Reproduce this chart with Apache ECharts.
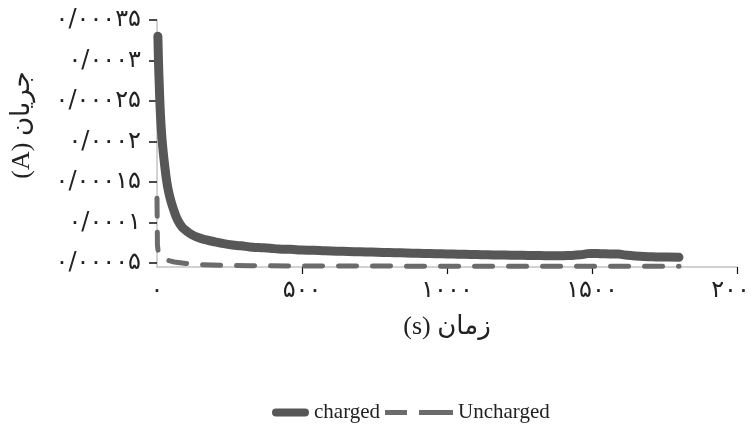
<!DOCTYPE html>
<html>
<head>
<meta charset="utf-8">
<script src="https://cdn.jsdelivr.net/npm/echarts@6/dist/echarts.min.js"></script>
<style>
html,body{margin:0;padding:0;background:#fff;}
#chart{width:754px;height:445px;}
</style>
</head>
<body>
<div id="chart"></div>
<script>
// ---- data ----
var chargedTime = [3, 5, 8, 11, 15, 20, 26, 33, 40, 50, 60, 70, 85, 100, 120, 145, 170, 200, 230, 260, 290, 320, 350, 390, 420, 460, 500, 540, 580, 620, 660, 700, 740, 780, 820, 860, 900, 940, 980, 1020, 1060, 1100, 1140, 1180, 1220, 1260, 1300, 1340, 1380, 1420, 1460, 1480, 1500, 1530, 1560, 1590, 1610, 1640, 1680, 1720, 1760, 1800];
var chargedCurrent = [0.000330, 0.000300, 0.000268, 0.000240, 0.000214, 0.000192, 0.000172, 0.000152, 0.000138, 0.000124, 0.000113, 0.000104, 0.000095, 0.000090, 0.000085, 0.000081, 0.0000785, 0.0000760, 0.0000738, 0.0000722, 0.0000712, 0.0000697, 0.0000690, 0.0000682, 0.0000672, 0.0000668, 0.0000660, 0.0000656, 0.0000650, 0.0000646, 0.0000641, 0.0000638, 0.0000634, 0.0000630, 0.0000627, 0.0000622, 0.0000620, 0.0000616, 0.0000613, 0.0000610, 0.0000606, 0.0000604, 0.0000601, 0.0000598, 0.0000596, 0.0000594, 0.0000592, 0.0000590, 0.0000589, 0.0000592, 0.0000600, 0.0000612, 0.0000618, 0.0000615, 0.0000612, 0.0000610, 0.0000600, 0.0000590, 0.0000580, 0.0000575, 0.0000572, 0.0000570];
var unchargedTime = [0, 1.5, 4, 10, 20, 35, 60, 100, 150, 220, 320, 600, 1000, 1400, 1800];
var unchargedCurrent = [0.000130, 0.000072, 0.000064, 0.000060, 0.0000565, 0.0000535, 0.0000512, 0.0000494, 0.000048, 0.000047, 0.0000465, 0.0000462, 0.000046, 0.000046, 0.000046];
var seriesNames = ['charged', 'Uncharged'];
var xTickValues = [0, 500, 1000, 1500, 2000];
var xTickLabels = ['۰', '۵۰۰', '۱۰۰۰', '۱۵۰۰', '۲۰۰۰'];
var yTickValues = [0.00005, 0.0001, 0.00015, 0.0002, 0.00025, 0.0003, 0.00035];
var yTickLabels = ['۰/۰۰۰۰۵', '۰/۰۰۰۱', '۰/۰۰۰۱۵', '۰/۰۰۰۲', '۰/۰۰۰۲۵', '۰/۰۰۰۳', '۰/۰۰۰۳۵'];
var xTitle = '(s) زمان';
var yTitle = '(A) جریان';

function pairs(a, b) { return a.map(function (t, i) { return [t, b[i]]; }); }
function lookup(vals, labels, v) {
  for (var i = 0; i < vals.length; i++) { if (Math.abs(vals[i] - v) < Math.abs(vals[i]) * 1e-6 + 1e-12) return labels[i]; }
  return '';
}

var chart = echarts.init(document.getElementById('chart'));
var serif = "'Liberation Serif', 'DejaVu Sans'";
var cCharged = '#575757', cUncharged = '#6b6b6b';
chart.setOption({
  animation: false,
  grid: { left: 157, right: 17, top: 20, bottom: 178, containLabel: false, outerBoundsMode: 'none' },
  xAxis: {
    type: 'value', min: 0, max: 2000,
    splitLine: { show: false },
    axisLine: { show: true, lineStyle: { color: '#c4c4c4', width: 1.5 } },
    axisTick: { show: true, length: 7, lineStyle: { color: '#111', width: 1.2 }, customValues: [500, 1000, 1500, 2000] },
    axisLabel: { customValues: xTickValues, margin: 12, fontSize: 24, fontFamily: "'DejaVu Sans'", color: '#222',
      hideOverlap: false, showMaxLabel: true,
      formatter: function (v) { return lookup(xTickValues, xTickLabels, v); } },
    name: xTitle, nameLocation: 'middle', nameGap: 47,
    nameTextStyle: { fontSize: 26, fontFamily: serif, color: '#222' }
  },
  yAxis: {
    type: 'value', min: 0.000045, max: 0.00035,
    splitLine: { show: false },
    axisLine: { show: true, lineStyle: { color: '#c4c4c4', width: 1.5 } },
    axisTick: { show: true, length: 8, lineStyle: { color: '#111', width: 1.5 }, customValues: yTickValues },
    axisLabel: { customValues: yTickValues, margin: 16, fontSize: 24, fontFamily: "'DejaVu Sans'", color: '#222',
      formatter: function (v) { return lookup(yTickValues, yTickLabels, v); } }
  },
  graphic: [{
    type: 'text', x: 22, y: 125, rotation: Math.PI / 2,
    style: { text: yTitle, align: 'center', verticalAlign: 'middle', fontSize: 26, fontFamily: serif, fill: '#222' }
  }],
  legend: [{
    data: [seriesNames[0]], left: 267, top: 397, itemWidth: 37, itemHeight: 8,
    icon: 'path://M4,0h29a4,4 0 0 1 0,8h-29a4,4 0 0 1 0,-8z',
    itemStyle: { color: cCharged, borderWidth: 0 },
    textStyle: { fontSize: 21, fontFamily: "'Liberation Serif'", color: '#222' }
  }, {
    data: [seriesNames[1]], left: 380, top: 397, itemWidth: 68, itemHeight: 5,
    icon: 'path://M0,0h22v5h-22z M34,0h34v5h-34z',
    itemStyle: { color: cUncharged, borderWidth: 0 },
    textStyle: { fontSize: 21, fontFamily: "'Liberation Serif'", color: '#222' }
  }],
  series: [{
    name: seriesNames[1], type: 'line', data: pairs(unchargedTime, unchargedCurrent),
    symbol: 'none', smooth: false, clip: true,
    lineStyle: { color: cUncharged, width: 5, type: [18, 16], cap: 'round' },
    itemStyle: { color: cUncharged }
  }, {
    name: seriesNames[0], type: 'line', data: pairs(chargedTime, chargedCurrent),
    symbol: 'none', smooth: true, clip: true,
    lineStyle: { color: cCharged, width: 9, cap: 'round', join: 'round' },
    itemStyle: { color: cCharged }
  }]
});
</script>
</body>
</html>
